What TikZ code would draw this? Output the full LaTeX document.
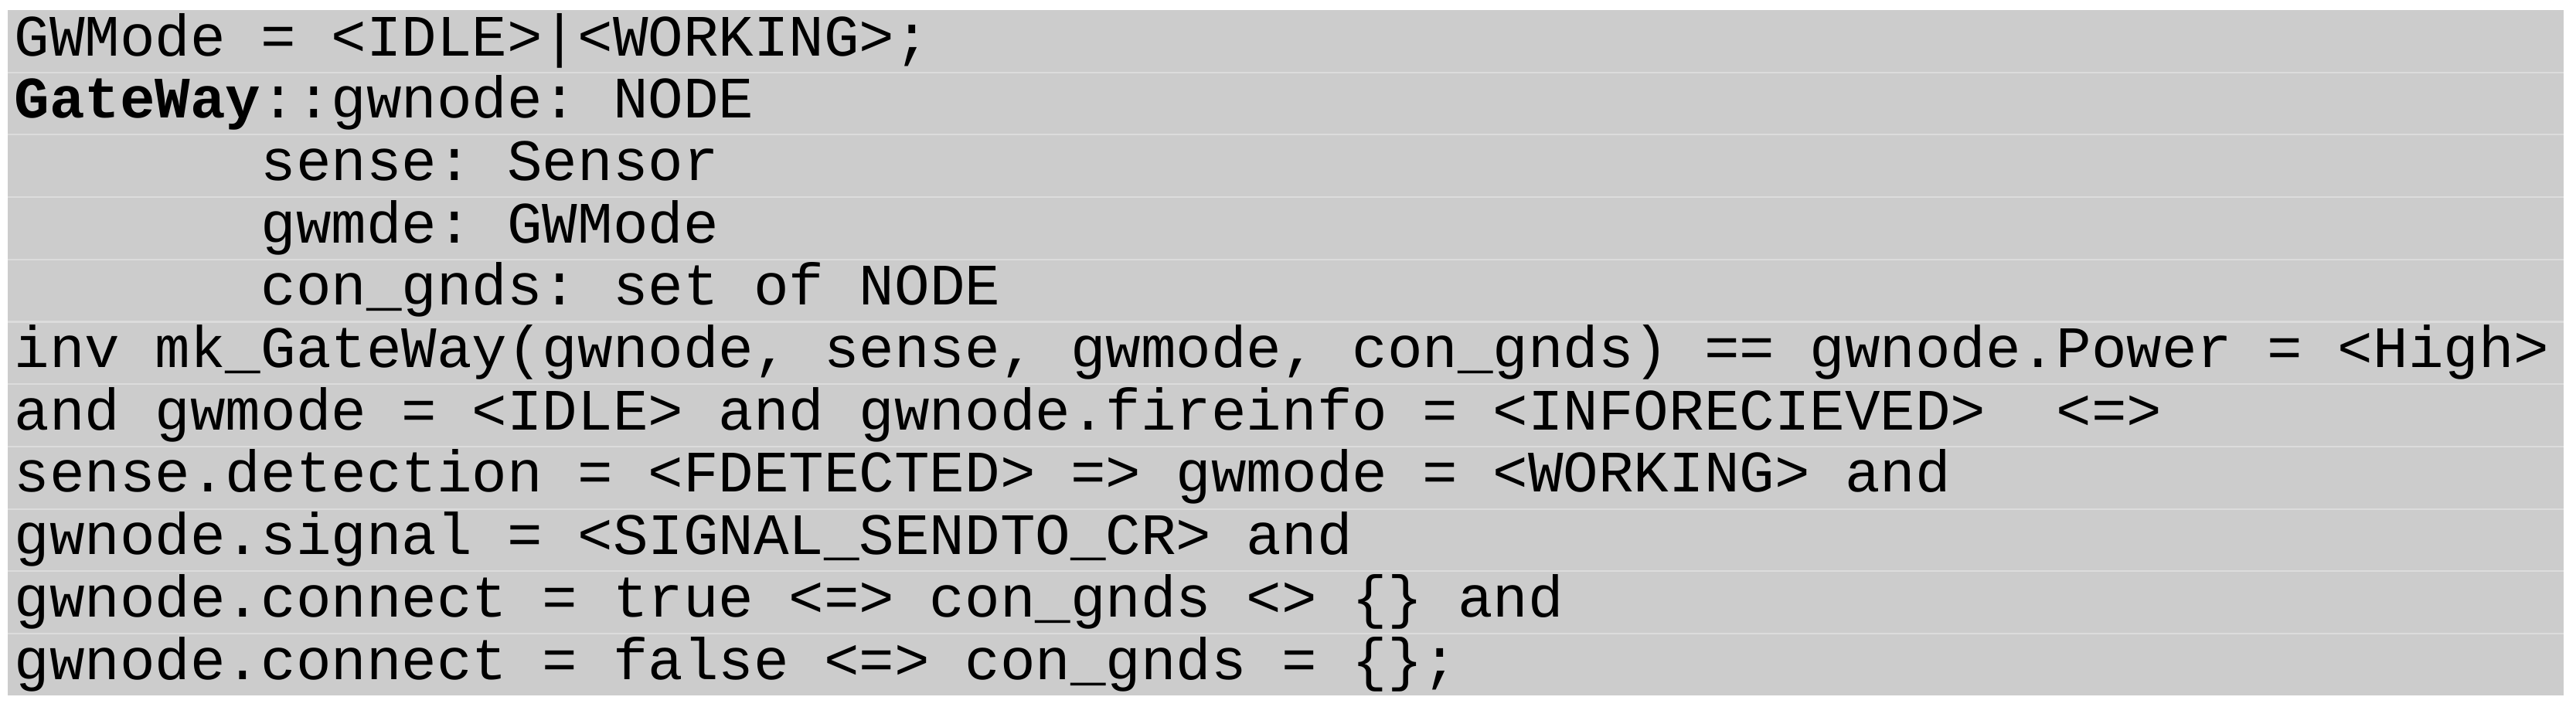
\documentclass[tikz,border=0pt]{standalone}
\usepackage{fontspec}
\setmonofont{Liberation Mono}
\usetikzlibrary{positioning}
\definecolor{codegray}{HTML}{CCCCCC}
\definecolor{rulegray}{HTML}{DCDCDC}
\tikzset{
	code/.style={anchor=base west,inner sep=0pt,font=\fontsize{21.6}{21.6}\ttfamily\selectfont},
}
\newcommand{\ind}{\hphantom{XXXXXXX}}
\begin{document}
\begin{tikzpicture}
		\useasboundingbox (0,0) rectangle (33.33,-9.14);
		\fill[codegray] (0.10,-0.13) rectangle (33.17,-9.00);
		\foreach \i in {1,...,10}
			\draw[rulegray,line width=0.6pt] (0.10,-0.13-0.807*\i)--(33.17,-0.13-0.807*\i);
		
		\node[code](l1) at (0.18,-0.72){GWMode = <IDLE>|<WORKING>;};
		\node[code](l2) at (0.18,-1.527){\textbf{GateWay}::gwnode: NODE};
		\node[code](l3) at (0.18,-2.334){\ind sense: Sensor};
		\node[code](l4) at (0.18,-3.141){\ind gwmde: GWMode};
		\node[code](l5) at (0.18,-3.948){\ind con\_gnds: set of NODE};
		\node[code](l6) at (0.18,-4.755){inv mk\_GateWay(gwnode, sense, gwmode, con\_gnds) == gwnode.Power = <High>};
		\node[code](l7) at (0.18,-5.562){and gwmode = <IDLE> and gwnode.fireinfo = <INFORECIEVED>\ \ <=>};
		\node[code](l8) at (0.18,-6.369){sense.detection = <FDETECTED> => gwmode = <WORKING> and};
		\node[code](l9) at (0.18,-7.176){gwnode.signal = <SIGNAL\_SENDTO\_CR> and};
		\node[code](l10) at (0.18,-7.983){gwnode.connect = true <=> con\_gnds <> \{\} and};
		\node[code](l11) at (0.18,-8.790){gwnode.connect = false <=> con\_gnds = \{\};};
	\end{tikzpicture}
\end{document}
